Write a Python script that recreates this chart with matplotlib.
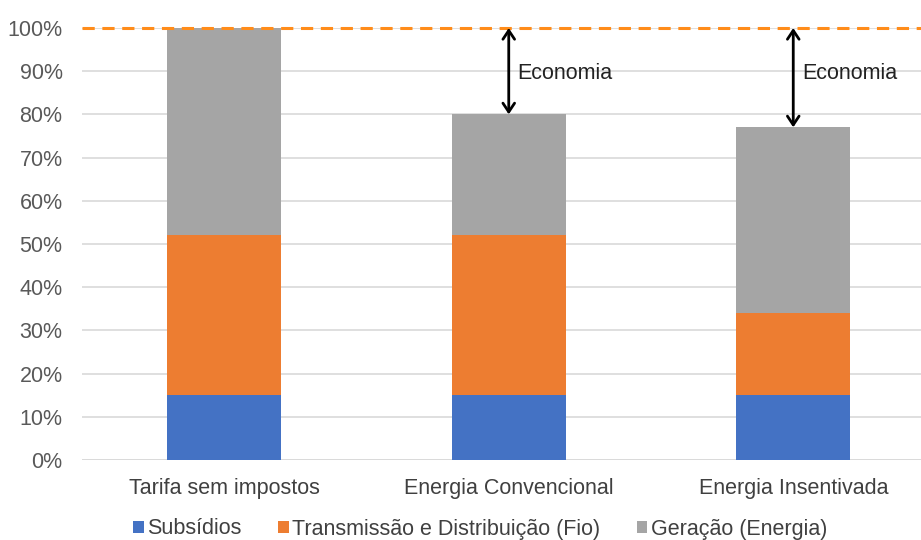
import matplotlib
matplotlib.use("Agg")
import matplotlib.pyplot as plt
from matplotlib.patches import Patch

plt.rcParams['font.family'] = ['Liberation Sans', 'DejaVu Sans']

categories = ["Tarifa sem impostos", "Energia Convencional", "Energia Insentivada"]
subsidios = [0.15, 0.15, 0.15]
fio = [0.37, 0.37, 0.19]
geracao = [0.48, 0.28, 0.43]
series_names = ["Subsídios", "Transmissão e Distribuição (Fio)", "Geração (Energia)"]
colors = ["#4472C4", "#ED7D31", "#A5A5A5"]
yticks = [0, 0.1, 0.2, 0.3, 0.4, 0.5, 0.6, 0.7, 0.8, 0.9, 1.0]
ytick_labels = ["0%", "10%", "20%", "30%", "40%", "50%", "60%", "70%", "80%", "90%", "100%"]
economia_idx = [1, 2]
economia_label = "Economia"

FS = 15.5

fig = plt.figure(figsize=(9.21, 5.4), dpi=100)
ax = fig.add_axes([82/921, 1-460/540, 1-82/921, (460-28)/540])

x = list(range(len(categories)))
w = 0.4
b2 = [s + f for s, f in zip(subsidios, fio)]
ax.bar(x, subsidios, w, color=colors[0], zorder=3)
ax.bar(x, fio, w, bottom=subsidios, color=colors[1], zorder=3)
ax.bar(x, geracao, w, bottom=b2, color=colors[2], zorder=3)

ax.set_xlim(-0.5, -0.5 + 839/284.5)
ax.set_ylim(0, 1.0)
ax.set_yticks(yticks)
ax.set_yticklabels(ytick_labels, color="#595959", fontsize=FS)
ax.set_xticks(x)
ax.set_xticklabels(categories, color="#404040", fontsize=FS)
ax.tick_params(axis='both', length=0)
ax.tick_params(axis='y', pad=14)
ax.tick_params(axis='x', pad=13)
ax.yaxis.grid(True, color="#d9d9d9", linewidth=1.2, zorder=0)
for s in ax.spines.values():
    s.set_visible(False)
ax.axhline(0, color="#d9d9d9", linewidth=1.2, zorder=2)
ax.axhline(1.0, color="#FF8C1A", linewidth=2.2, linestyle=(0, (4, 2.5)), zorder=4, clip_on=False)

for i in economia_idx:
    top = subsidios[i] + fio[i] + geracao[i]
    ax.annotate("", xy=(i, top), xytext=(i, 1.0),
                arrowprops=dict(arrowstyle="<->,head_length=0.45,head_width=0.3", color="black",
                                lw=2.0, shrinkA=0, shrinkB=0, mutation_scale=14,
                                capstyle="round", joinstyle="round"), zorder=5)
    ax.text(i + 0.03, 0.895, economia_label, fontsize=FS, color="#222222", va="center", ha="left")

handles = [Patch(facecolor=c) for c in colors]
fig.legend(handles, series_names, loc="center", bbox_to_anchor=(480/921, 1-529/540), ncol=3,
           frameon=False, fontsize=FS, handlelength=0.5, handleheight=0.5, handletextpad=0.15,
           columnspacing=1.7, labelcolor="#404040", borderaxespad=0, borderpad=0)

fig.savefig("out.png", dpi=100)
